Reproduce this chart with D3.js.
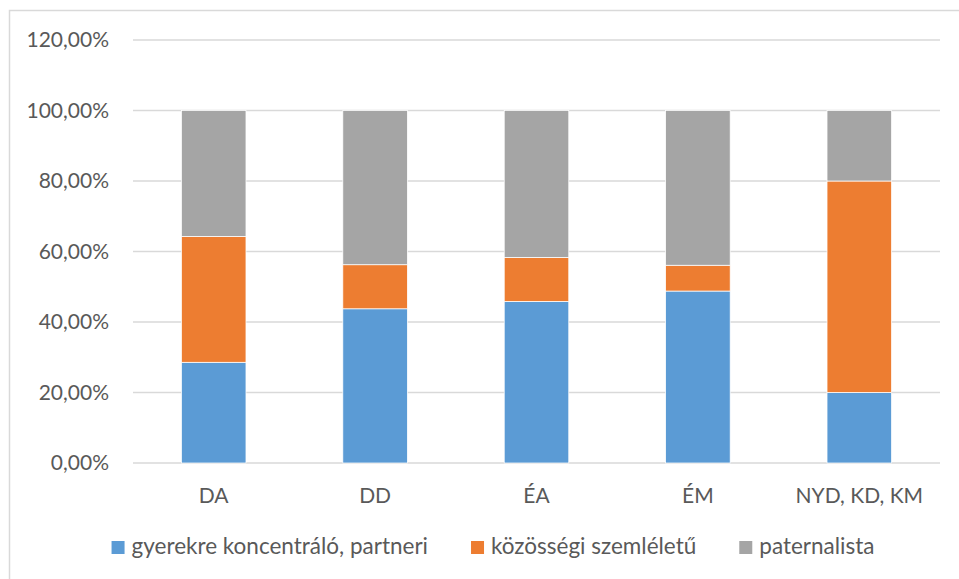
<!DOCTYPE html>
<meta charset="utf-8">
<html>
<head>
<script src="https://cdn.jsdelivr.net/npm/d3@7"></script>
<style>
body { margin: 0; background: #fff; }
svg { display: block; }
.axis text, .legend text { fill: #595959; font-family: Lato, "Open Sans", sans-serif; font-size: 21px; }
.legend text { font-size: 22.5px; }
</style>
</head>
<body>
<svg width="959" height="579"></svg>
<script>
// data
var categories = ["DA", "DD", "ÉA", "ÉM", "NYD, KD, KM"];
var seriesNames = ["gyerekre koncentráló, partneri", "közösségi szemléletű", "paternalista"];
var partneri = [28.57, 43.75, 45.83, 48.78, 20.0];
var kozossegi = [35.71, 12.5, 12.5, 7.32, 60.0];
var paternalista = [35.72, 43.75, 41.67, 43.9, 20.0];
var yTicks = [0, 20, 40, 60, 80, 100, 120];
var colors = ["#5b9bd5", "#ed7d31", "#a5a5a5"];

var svg = d3.select("svg");

// chart frame
svg.append("rect")
    .attr("x", 9.5).attr("y", 10.5)
    .attr("width", 980).attr("height", 600)
    .attr("fill", "none").attr("stroke", "#d9d9d9").attr("stroke-width", 1.5);

var margin = {left: 133, right: 19, top: 40, bottom: 116},
    width = 959 - margin.left - margin.right,
    height = 579 - margin.top - margin.bottom;

var g = svg.append("g").attr("transform", "translate(" + margin.left + "," + margin.top + ")");

var x = d3.scaleBand().domain(categories).range([0, width]).paddingInner(0.6).paddingOuter(0.3);
var y = d3.scaleLinear().domain([0, 120]).range([height, 0]);

// gridlines
g.append("g").selectAll("line")
  .data(yTicks)
  .enter().append("line")
    .attr("x1", 0).attr("x2", width)
    .attr("y1", function(d) { return y(d); })
    .attr("y2", function(d) { return y(d); })
    .attr("stroke", "#d9d9d9").attr("stroke-width", 1.3);

var fmt = function(d) { return d.toFixed(2).replace(".", ",") + "%"; };

var yAxis = g.append("g").attr("class", "axis")
    .call(d3.axisLeft(y).tickValues(yTicks).tickFormat(fmt).tickSize(0).tickPadding(24));
yAxis.select(".domain").remove();

var xAxis = g.append("g").attr("class", "axis")
    .attr("transform", "translate(0," + height + ")")
    .call(d3.axisBottom(x).tickSize(0).tickPadding(25));
xAxis.select(".domain").remove();

// stacked bars
var rows = categories.map(function(c, i) {
  return {cat: c, s0: partneri[i], s1: kozossegi[i], s2: paternalista[i]};
});
var stack = d3.stack().keys(["s0", "s1", "s2"])(rows);

g.selectAll(".series")
  .data(stack)
  .enter().append("g")
    .attr("fill", function(d, i) { return colors[i]; })
  .selectAll("rect")
  .data(function(d) { return d; })
  .enter().append("rect")
    .attr("x", function(d) { return x(d.data.cat); })
    .attr("width", x.bandwidth())
    .attr("y", function(d) { return y(d[1]); })
    .attr("height", function(d) { return y(d[0]) - y(d[1]); })
    .attr("stroke", "#fff").attr("stroke-width", 0.75);

// legend
var legend = svg.append("g").attr("class", "legend");
var items = legend.selectAll("g")
  .data(seriesNames)
  .enter().append("g");
items.append("rect")
    .attr("width", 13).attr("height", 13).attr("y", -13)
    .attr("fill", function(d, i) { return colors[i]; });
items.append("text")
    .attr("x", 20).attr("y", 0)
    .text(function(d) { return d; });

var pos = 0, offs = [];
items.each(function() {
  offs.push(pos);
  pos += 20 + d3.select(this).select("text").node().getComputedTextLength() + 43;
});
var total = pos - 43;
var startX = 493 - total / 2;
items.attr("transform", function(d, i) { return "translate(" + (startX + offs[i]) + ",554)"; });
</script>
</body>
</html>
